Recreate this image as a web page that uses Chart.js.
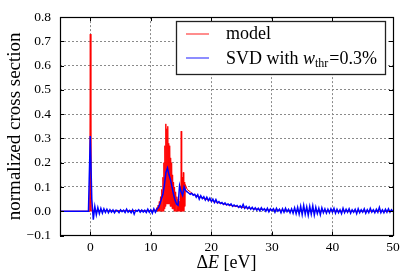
<!DOCTYPE html>
<html><head><meta charset="utf-8">
<script src="https://cdn.jsdelivr.net/npm/chart.js@4/dist/chart.umd.min.js"></script>
<style>html,body{margin:0;padding:0;background:#fff}#c{display:block}</style>
</head><body>
<canvas id="c" width="407" height="280"></canvas>
<script>
// ---- data ----
const xTicks = [0, 10, 20, 30, 40, 50];
const yTicks = [-0.1, 0.0, 0.1, 0.2, 0.3, 0.4, 0.5, 0.6, 0.7, 0.8];

// model (red)
const modelE = [-5, -0.1, 0, 0.1, 0.4, 1, 2, 3, 4, 5, 6, 7, 8, 9, 10, 10.8,
  11.0, 11.1, 11.2, 11.3, 11.4, 11.5, 11.6, 11.7, 11.8, 11.9, 12.0, 12.08, 12.16, 12.24, 12.32, 12.4,
  12.48, 12.56, 12.64, 12.72, 12.8, 12.88, 12.96, 13.04, 13.12, 13.2, 13.28, 13.36, 13.44, 13.52, 13.6, 13.68,
  13.76, 13.84, 13.92, 14.0, 14.1, 14.2, 14.3, 14.4, 14.5, 14.6, 14.7, 14.8, 14.9, 14.95,
  15.02, 15.1, 15.2, 15.28, 15.36, 15.44, 15.52, 15.6, 15.7, 16.0, 16.5, 17, 18, 19, 20, 21, 22, 23, 24, 25, 26,
  27, 28, 30, 35, 40, 45, 50];
const modelY = [0, 0, 0.73, 0, 0.004, 0.003, 0.002, 0.003, 0.002, 0.003, 0.002, 0.003, 0.003, 0.002, 0.002, 0.003,
  0.015, 0, 0.025, 0, 0.04, 0, 0.06, 0, 0.09, 0, 0.14, 0, 0.2, 0.01, 0.27, 0.02,
  0.36, 0.03, 0.34, 0.03, 0.35, 0.03, 0.28, 0.03, 0.27, 0.02, 0.22, 0.02, 0.2, 0.01, 0.15, 0.01,
  0.12, 0, 0.1, 0, 0.08, 0, 0.06, 0, 0.05, 0, 0.04, 0, 0.1, 0,
  0.33, 0, 0.14, 0, 0.16, 0, 0.12, 0.02, 0.11, 0.09, 0.08, 0.07, 0.06, 0.05, 0.044, 0.036, 0.03, 0.025, 0.02, 0.016, 0.013,
  0.01, 0.008, 0.005, 0.002, 0.001, 0.0, 0.0];

// SVD reconstruction (blue), sampled every 0.25 eV from 0 to 50
const svdStart = 0, svdStep = 0.25;
const svdY = [
  0.31, 0.05, -0.035, 0.02, -0.015, 0.015, -0.01, 0.012, -0.008, 0.01, -0.005, 0.008, -0.006, 0.006, -0.004, 0.005,
  -0.006, 0.004, 0.002, -0.006, 0.006, -0.002, 0.004, -0.005, 0.008, -0.004, 0.003, -0.006, 0.006, -0.012, 0.004, 0.0,
  0.006, -0.004, 0.005, -0.003, 0.004, -0.005, 0.008, -0.004, 0.006, -0.008, 0.01, -0.004, 0.008, 0.015, 0.03, 0.05,
  0.07, 0.11, 0.16, 0.178, 0.15, 0.13, 0.10, 0.07, 0.045, 0.03, 0.025, 0.105, 0.08, 0.065, 0.10, 0.085,
  0.08, 0.075, 0.07, 0.074, 0.066, 0.07, 0.058, 0.068, 0.05, 0.064, 0.052, 0.06, 0.046, 0.058, 0.044, 0.054,
  0.04, 0.05, 0.036, 0.048, 0.034, 0.04, 0.032, 0.036, 0.028, 0.034, 0.026, 0.03, 0.024, 0.03, 0.02, 0.026,
  0.02, 0.024, 0.016, 0.022, 0.014, 0.028, 0.012, 0.02, 0.01, 0.018, 0.008, 0.016, 0.006, 0.014, 0.004, 0.012,
  0.002, 0.014, 0.004, 0.01, 0.0, 0.012, -0.002, 0.01, 0.002, 0.01, -0.004, 0.012, 0.0, 0.008, -0.006, 0.01,
  -0.004, 0.012, -0.002, 0.008, -0.006, 0.01, -0.008, 0.014, -0.01, 0.016, -0.012, 0.02, -0.014, 0.024, -0.012, 0.018,
  -0.016, 0.02, -0.012, 0.022, -0.016, 0.016, -0.01, 0.012, -0.014, 0.014, -0.006, 0.01, -0.008, 0.008, -0.006, 0.01,
  -0.004, 0.012, -0.008, 0.008, -0.006, 0.006, -0.01, 0.012, -0.006, 0.008, -0.004, 0.01, -0.008, 0.006, -0.004, 0.008,
  -0.01, 0.01, -0.006, 0.006, -0.004, 0.01, -0.008, 0.006, -0.006, 0.012, -0.004, 0.006, -0.006, 0.008, -0.004, 0.016,
  -0.006, 0.006, -0.006, 0.008, -0.004, 0.01, -0.004, 0.006, -0.002];
const svdPre = [{x: -5, y: 0}, {x: -0.3, y: 0}];

const modelLabel = 'model';
const svdLabel = 'SVD with ';

// ---- build datasets ----
const modelData = modelE.map((e, i) => ({x: e, y: modelY[i]}));
const svdData = svdPre.concat(svdY.map((v, i) => ({x: svdStart + i * svdStep, y: v})));

const SERIF = '"Liberation Serif", "DejaVu Serif", serif';

const frame = {
  id: 'frame',
  afterDraw(chart) {
    const {ctx, chartArea: a, scales} = chart;
    ctx.save();
    ctx.strokeStyle = '#000';
    ctx.lineWidth = 1;
    // inward ticks
    ctx.beginPath();
    xTicks.forEach(v => {
      const p = Math.round(scales.x.getPixelForValue(v)) + 0.5;
      ctx.moveTo(p, a.bottom); ctx.lineTo(p, a.bottom - 4);
      ctx.moveTo(p, a.top); ctx.lineTo(p, a.top + 4);
    });
    yTicks.forEach(v => {
      const p = Math.round(scales.y.getPixelForValue(v)) + 0.5;
      ctx.moveTo(a.left, p); ctx.lineTo(a.left + 4, p);
      ctx.moveTo(a.right, p); ctx.lineTo(a.right - 4, p);
    });
    ctx.stroke();
    ctx.lineWidth = 1.2;
    ctx.strokeRect(Math.round(a.left) + 0.5, Math.round(a.top) + 0.5,
                   Math.round(a.right - a.left), Math.round(a.bottom - a.top));
    // x-axis title with italic E
    ctx.fillStyle = '#000';
    ctx.textBaseline = 'alphabetic';
    ctx.textAlign = 'left';
    const parts = [['Δ', '18px '], ['E', 'italic 18px '], [' [eV]', '18px ']];
    let tw = 0;
    parts.forEach(p => { ctx.font = p[1] + SERIF; tw += ctx.measureText(p[0]).width; });
    let tx = (a.left + a.right) / 2 - tw / 2;
    parts.forEach(p => { ctx.font = p[1] + SERIF; ctx.fillText(p[0], tx, 268); tx += ctx.measureText(p[0]).width; });
    // legend
    const bx = 176, by = 21, bw = 209, bh = 53;
    ctx.fillStyle = '#fff';
    ctx.fillRect(bx, by, bw, bh);
    ctx.strokeStyle = '#222';
    ctx.lineWidth = 1.3;
    ctx.strokeRect(bx + 0.5, by + 0.5, bw, bh);
    ctx.lineWidth = 1.5;
    ctx.strokeStyle = 'rgba(255,0,0,0.6)';
    ctx.beginPath(); ctx.moveTo(186, 34); ctx.lineTo(209, 34); ctx.stroke();
    ctx.strokeStyle = 'rgba(0,0,255,0.6)';
    ctx.beginPath(); ctx.moveTo(186, 58); ctx.lineTo(209, 58); ctx.stroke();
    ctx.fillStyle = '#000';
    ctx.font = '18px ' + SERIF;
    ctx.fillText(modelLabel, 226, 39);
    let x = 226;
    ctx.fillText(svdLabel, x, 64);
    x += ctx.measureText(svdLabel).width;
    ctx.font = 'italic 18px ' + SERIF;
    ctx.fillText('w', x, 64);
    x += ctx.measureText('w').width;
    ctx.font = '12px ' + SERIF;
    ctx.fillText('thr', x, 67);
    x += ctx.measureText('thr').width + 1;
    ctx.font = '18px ' + SERIF;
    ctx.fillText('=0.3%', x, 64);
    ctx.restore();
  }
};

new Chart(document.getElementById('c'), {
  type: 'line',
  data: {
    datasets: [
      {label: modelLabel, data: modelData, borderColor: '#ff0000', borderWidth: 1, pointRadius: 0, tension: 0, order: 2},
      {label: 'SVD', data: svdData, borderColor: '#0000ff', borderWidth: 1.5, pointRadius: 0, tension: 0, order: 1}
    ]
  },
  options: {
    responsive: false,
    animation: false,
    events: [],
    layout: {padding: {left: 0, right: 14, top: 13, bottom: 0}},
    plugins: {legend: {display: false}, tooltip: {enabled: false}},
    scales: {
      x: {
        type: 'linear', min: -5, max: 50,
        afterBuildTicks: s => { s.ticks = xTicks.map(v => ({value: v})); },
        afterFit: s => { s.height = 44.5; },
        grid: {color: '#8a8a8a', lineWidth: 1, drawTicks: false},
        border: {display: false, dash: [2, 2]},
        ticks: {color: '#000', padding: 4, font: {family: SERIF, size: 13.5}, callback: v => String(v)},
        title: {display: false}
      },
      y: {
        type: 'linear', min: -0.1, max: 0.8,
        afterBuildTicks: s => { s.ticks = yTicks.map(v => ({value: v})); },
        afterFit: s => { s.width = 60; },
        grid: {color: '#8a8a8a', lineWidth: 1, drawTicks: false},
        border: {display: false, dash: [2, 2]},
        ticks: {color: '#000', padding: 9, font: {family: SERIF, size: 13.5},
          callback: v => (v < 0 ? '\u2212' : '') + Math.abs(v).toFixed(1)},
        title: {display: true, text: 'normalized cross section', color: '#000', font: {family: SERIF, size: 19}, padding: {top: 4, bottom: 0}}
      }
    }
  },
  plugins: [frame]
});
</script>
</body></html>
